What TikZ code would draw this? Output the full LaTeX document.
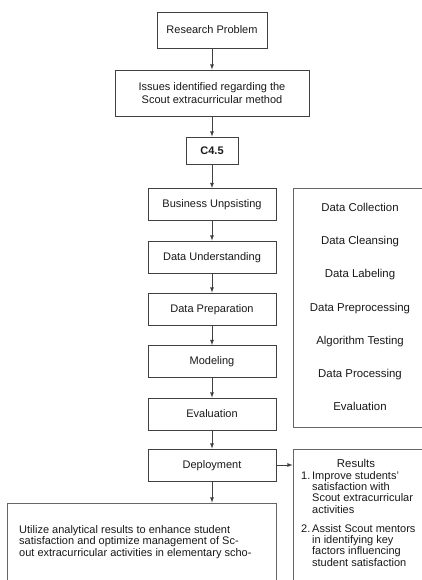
\documentclass[tikz,border=0pt]{standalone}
\usepackage{fontspec}
\setmainfont{Liberation Sans}
\usetikzlibrary{positioning}

\tikzset{
    stepbox/.style={draw=black!75, line width=0.8pt, text=black!90, align=center},
    phase/.style={stepbox, minimum width=128pt, minimum height=32pt, text height=8pt, text depth=2pt},
    panel/.style={draw=black!60, line width=0.8pt},
    item/.style={anchor=base, text=black!90, inner sep=0pt, font=\fontsize{11.4}{13}\selectfont}
}

\begin{document}
\begin{tikzpicture}[x=1pt, y=-1pt, font=\fontsize{11}{13}\selectfont]
    \clip (0,0) rectangle (422,580);
    \fill[white] (0,0) rectangle (422,580);

    % Main flow
    \node[stepbox, minimum width=110pt, minimum height=36pt] (problem) at (212,30) {Research Problem};
    \node[stepbox, minimum width=194pt, minimum height=46pt] (issues) at (212,93) {Issues identified regarding the\\Scout extracurricular method};
    \node[stepbox, minimum width=52pt, minimum height=27pt, font=\fontsize{11}{13}\selectfont\bfseries] (algo) at (212,150.5) {C4.5};

    % CRISP-DM phases
    \node[phase] (business) at (212,204.5) {Business Unpsisting};
    \node[phase] (understand) at (212,257) {Data Understanding};
    \node[phase] (prepare) at (212,309) {Data Preparation};
    \node[phase] (model) at (212,361.5) {Modeling};
    \node[phase] (evaluate) at (212,414) {Evaluation};
    \node[phase] (deploy) at (212,465) {Deployment};

    % Final outcome
    \node[panel, minimum width=269pt, minimum height=97pt] (final) at (141.5,551.5) {};
    \node[item, anchor=base west] (finaltext) at (19,533) {\fontsize{11}{11.7}\selectfont
        \begin{tabular}[t]{@{}l@{}}
        Utilize analytical results to enhance student\\
        satisfaction and optimize management of Sc-\\
        out extracurricular activities in elementary scho-
        \end{tabular}};

    % Research stages
    \node[panel, minimum width=134pt, minimum height=239pt] (stages) at (360,307.5) {};
    \node[item] (collect) at (360,211) {Data Collection};
    \node[item] (cleanse) at (360,244) {Data Cleansing};
    \node[item] (label) at (360,277) {Data Labeling};
    \node[item] (preproc) at (360,311) {Data Preprocessing};
    \node[item] (testing) at (360,344) {Algorithm Testing};
    \node[item] (process) at (360,377) {Data Processing};
    \node[item] (evalstage) at (360,410) {Evaluation};

    % Results
    \node[panel, minimum width=134pt, minimum height=151pt] (results) at (360,524.5) {};
    \node[item] (restitle) at (356,467) {Results};
    \node[item, anchor=base west] (reslist) at (301,479) {\fontsize{11}{11.3}\selectfont
        \begin{tabular}[t]{@{}l@{\hspace{1.8pt}}l@{}}
        1. & Improve students'\\
           & satisfaction with\\
           & Scout extracurricular\\
           & activities\\[7.7pt]
        2. & Assist Scout mentors\\
           & in identifying key\\
           & factors influencing\\
           & student satisfaction
        \end{tabular}};

    % Connectors
    \draw[->, >=latex, black!75, line width=0.8pt] (problem) -- (issues);
    \draw[->, >=latex, black!75, line width=0.8pt] (issues) -- (algo);
    \draw[->, >=latex, black!75, line width=0.8pt] (algo) -- (business);
    \draw[->, >=latex, black!75, line width=0.8pt] (business) -- (understand);
    \draw[->, >=latex, black!75, line width=0.8pt] (understand) -- (prepare);
    \draw[->, >=latex, black!75, line width=0.8pt] (prepare) -- (model);
    \draw[->, >=latex, black!75, line width=0.8pt] (model) -- (evaluate);
    \draw[->, >=latex, black!75, line width=0.8pt] (evaluate) -- (deploy);
    \draw[->, >=latex, black!75, line width=0.8pt] (deploy) -- (deploy |- final.north);
    \draw[->, >=latex, black!75, line width=0.8pt] (deploy) -- (deploy -| results.west);
\end{tikzpicture}
\end{document}
